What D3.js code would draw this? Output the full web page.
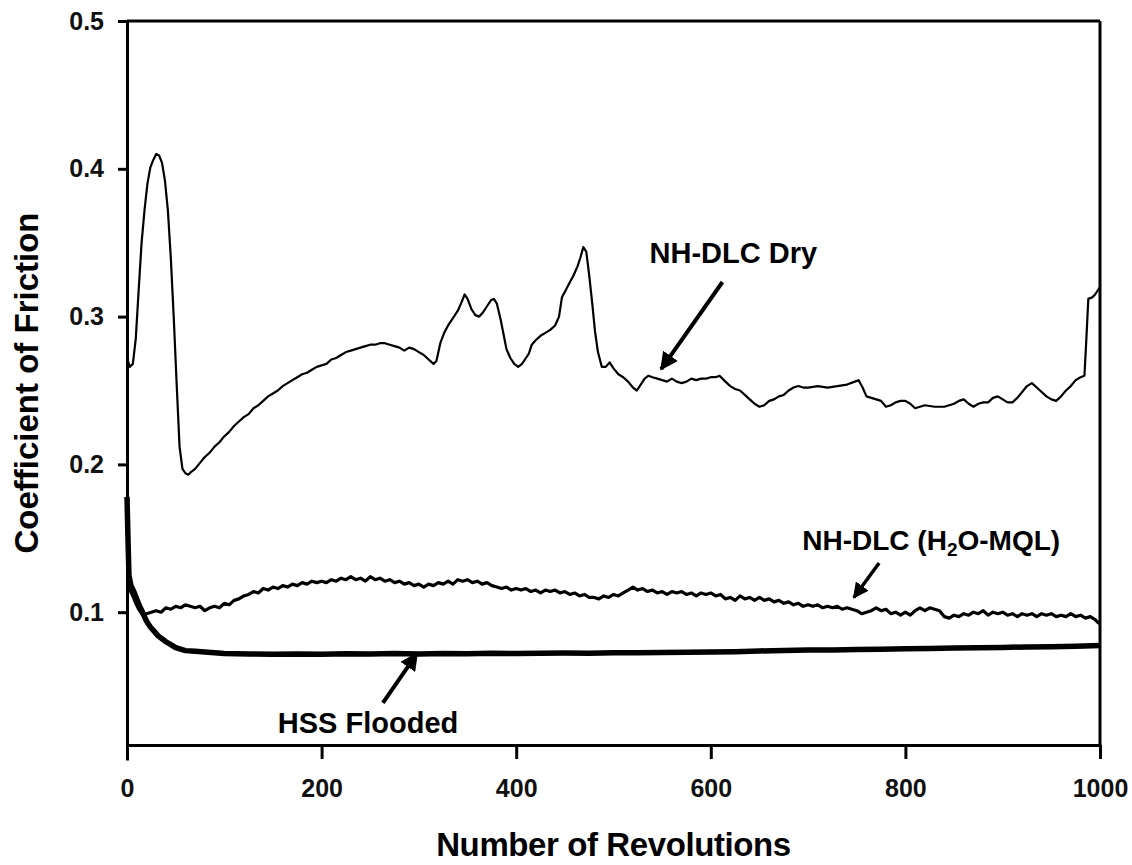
<!DOCTYPE html>
<html>
<head>
<meta charset="utf-8">
<script src="https://cdn.jsdelivr.net/npm/d3@7"></script>
<style>
  body { margin: 0; background: #fff; }
  svg { display: block; font-family: "Liberation Sans", Arial, sans-serif; }
</style>
</head>
<body>
<svg id="chart" width="1132" height="865"></svg>
<script>
// ---------- data ----------
const xTicks = [0, 200, 400, 600, 800, 1000];
const yTicks = [0.1, 0.2, 0.3, 0.4, 0.5];
const yTickLabels = ["0.1", "0.2", "0.3", "0.4", "0.5"];
const xTitle = "Number of Revolutions";
const yTitle = "Coefficient of Friction";

const dryRev = [0,3,6,9,12,15,18,21,24,27,30,33,36,39,42,45,48,51,54,57,60,63,66,70,75,80,85,90,95,100,105,110,115,120,125,130,135,140,145,150,155,160,165,170,175,180,185,190,195,200,205,210,215,220,225,230,235,240,245,250,255,260,265,270,275,280,285,290,295,300,305,310,315,318,322,326,330,335,340,344,347,350,354,358,362,366,370,374,377,380,384,387,390,394,398,402,406,410,413,416,420,425,430,435,440,444,447,451,455,459,463,466,469,472,475,478,481,484,488,492,496,500,505,510,515,520,524,528,532,536,540,545,550,555,560,565,570,575,580,585,590,595,600,605,609,615,620,625,630,635,640,645,650,655,660,665,670,675,680,685,690,695,700,710,720,730,740,748,752,756,760,765,770,775,780,785,790,795,800,805,810,815,820,830,840,850,855,860,865,870,875,880,885,890,895,900,905,910,915,920,925,930,935,940,945,950,955,960,965,970,975,980,984,986,988,992,995,998,1000];
const dryCof = [0.272,0.266,0.268,0.285,0.318,0.350,0.372,0.390,0.401,0.406,0.410,0.409,0.404,0.392,0.372,0.340,0.300,0.255,0.212,0.197,0.194,0.193,0.195,0.197,0.201,0.205,0.208,0.212,0.215,0.219,0.222,0.226,0.229,0.232,0.234,0.238,0.240,0.243,0.246,0.248,0.250,0.253,0.255,0.257,0.259,0.261,0.262,0.264,0.266,0.267,0.268,0.271,0.272,0.274,0.276,0.277,0.278,0.279,0.280,0.281,0.281,0.282,0.282,0.281,0.280,0.279,0.277,0.279,0.278,0.276,0.274,0.271,0.268,0.270,0.282,0.289,0.294,0.299,0.304,0.310,0.315,0.312,0.305,0.301,0.300,0.303,0.307,0.311,0.312,0.309,0.298,0.288,0.278,0.272,0.268,0.266,0.268,0.272,0.275,0.281,0.284,0.287,0.289,0.291,0.294,0.300,0.313,0.318,0.323,0.328,0.334,0.340,0.347,0.344,0.328,0.310,0.290,0.276,0.266,0.266,0.269,0.265,0.261,0.259,0.256,0.252,0.250,0.254,0.258,0.260,0.259,0.258,0.257,0.256,0.258,0.256,0.255,0.256,0.258,0.257,0.258,0.258,0.259,0.259,0.260,0.256,0.253,0.251,0.250,0.247,0.244,0.241,0.239,0.240,0.243,0.244,0.246,0.247,0.250,0.252,0.253,0.252,0.252,0.253,0.252,0.253,0.254,0.256,0.257,0.252,0.246,0.245,0.244,0.243,0.239,0.240,0.242,0.243,0.243,0.241,0.238,0.239,0.240,0.239,0.239,0.241,0.243,0.244,0.241,0.239,0.241,0.242,0.242,0.245,0.246,0.244,0.242,0.242,0.245,0.249,0.253,0.255,0.252,0.249,0.246,0.244,0.243,0.246,0.250,0.253,0.257,0.259,0.260,0.285,0.312,0.313,0.315,0.318,0.320];

const mqlRev = [0,3,6,9,12,16,20,25,30,35,40,45,50,55,60,65,70,75,80,85,90,95,100,105,110,115,120,125,130,135,140,145,150,155,160,165,170,175,180,185,190,195,200,205,210,215,220,225,230,235,240,245,250,255,260,265,270,275,280,285,290,295,300,305,310,315,320,325,330,335,340,345,350,355,360,365,370,375,380,385,390,395,400,405,410,415,420,425,430,435,440,445,450,455,460,465,470,475,480,485,490,495,500,505,510,515,520,525,530,535,540,545,550,555,560,565,570,575,580,585,590,595,600,605,610,615,620,625,630,635,640,645,650,655,660,665,670,675,680,685,690,695,700,705,710,715,720,725,730,735,740,745,750,755,760,765,770,775,780,785,790,795,800,805,810,815,820,825,830,835,840,845,850,855,860,865,870,875,880,885,890,895,900,905,910,915,920,925,930,935,940,945,950,955,960,965,970,975,980,985,990,995,998,1000];
const mqlCof = [0.117,0.115,0.111,0.106,0.102,0.098,0.099,0.100,0.101,0.100,0.103,0.102,0.104,0.103,0.105,0.104,0.103,0.104,0.101,0.103,0.104,0.103,0.106,0.105,0.108,0.109,0.111,0.112,0.114,0.113,0.116,0.115,0.117,0.116,0.118,0.117,0.119,0.118,0.120,0.119,0.121,0.120,0.121,0.120,0.122,0.121,0.123,0.122,0.124,0.122,0.123,0.121,0.124,0.122,0.123,0.121,0.122,0.120,0.121,0.119,0.120,0.118,0.119,0.117,0.119,0.118,0.120,0.119,0.121,0.119,0.122,0.121,0.122,0.120,0.121,0.119,0.120,0.118,0.117,0.116,0.117,0.115,0.116,0.115,0.116,0.114,0.115,0.113,0.115,0.114,0.115,0.113,0.114,0.112,0.113,0.111,0.112,0.110,0.110,0.109,0.111,0.110,0.112,0.111,0.113,0.115,0.117,0.115,0.116,0.114,0.115,0.113,0.114,0.112,0.114,0.113,0.114,0.112,0.113,0.111,0.113,0.112,0.113,0.111,0.112,0.109,0.110,0.108,0.111,0.109,0.110,0.108,0.110,0.108,0.109,0.107,0.108,0.106,0.107,0.105,0.106,0.104,0.105,0.104,0.105,0.103,0.104,0.103,0.104,0.102,0.103,0.102,0.101,0.099,0.100,0.101,0.103,0.101,0.102,0.099,0.100,0.098,0.100,0.098,0.101,0.103,0.101,0.103,0.102,0.101,0.097,0.096,0.098,0.097,0.099,0.098,0.100,0.099,0.101,0.098,0.100,0.099,0.100,0.098,0.099,0.097,0.099,0.098,0.099,0.097,0.099,0.098,0.099,0.097,0.098,0.097,0.099,0.097,0.098,0.096,0.097,0.095,0.093,0.092];

const hssRev = [0,1,2,4,7,10,13,16,20,24,28,32,36,40,45,50,55,60,70,80,90,100,125,150,175,200,225,250,275,300,325,350,375,400,425,450,475,500,525,550,575,600,625,650,675,700,725,750,775,800,825,850,875,900,925,950,975,1000];
const hssCof = [0.178,0.150,0.125,0.118,0.114,0.109,0.104,0.100,0.094,0.090,0.087,0.084,0.082,0.080,0.078,0.076,0.075,0.074,0.0735,0.073,0.0725,0.072,0.0718,0.0715,0.0718,0.0716,0.0719,0.0717,0.072,0.0718,0.0721,0.0719,0.0722,0.072,0.0723,0.0724,0.0722,0.0726,0.0725,0.0727,0.0729,0.073,0.0733,0.0738,0.0741,0.0745,0.0744,0.0748,0.075,0.0752,0.0755,0.0757,0.076,0.0762,0.0765,0.0767,0.077,0.0775];

const labelDry = "NH-DLC Dry";
const labelHss = "HSS Flooded";

// ---------- chart ----------
const svg = d3.select("#chart");
const x = d3.scaleLinear().domain([0, 1000]).range([127, 1100]);
const y = d3.scaleLinear().domain([0, 0.5]).range([760, 21]);
const xAxisY = 745;
const font = '"Liberation Sans", Arial, sans-serif';

const line = d3.line().x(d => x(d[0])).y(d => y(d[1]));
const zip = (a, b) => a.map((v, i) => [v, b[i]]);

svg.append("path").datum(zip(hssRev, hssCof)).attr("d", line)
  .attr("fill", "none").attr("stroke", "#000").attr("stroke-width", 5.5).attr("stroke-linejoin", "round");
svg.append("path").datum(zip(mqlRev, mqlCof)).attr("d", line)
  .attr("fill", "none").attr("stroke", "#000").attr("stroke-width", 3.2).attr("stroke-linejoin", "round");
svg.append("path").datum(zip(dryRev, dryCof)).attr("d", line)
  .attr("fill", "none").attr("stroke", "#000").attr("stroke-width", 2.2).attr("stroke-linejoin", "round");

// frame (top and right)
svg.append("line").attr("x1", x(0)).attr("x2", x(1000)).attr("y1", y(0.5)).attr("y2", y(0.5))
  .attr("stroke", "#000").attr("stroke-width", 3);
svg.append("line").attr("x1", x(1000)).attr("x2", x(1000)).attr("y1", y(0.5)).attr("y2", xAxisY)
  .attr("stroke", "#000").attr("stroke-width", 3);

// y axis
const yAxis = svg.append("g").attr("transform", `translate(${x(0)},0)`)
  .call(d3.axisLeft(y).tickValues(yTicks).tickFormat((d, i) => yTickLabels[i]).tickSize(9).tickSizeOuter(0).tickPadding(14));
yAxis.select(".domain").attr("stroke-width", 3);
yAxis.selectAll(".tick line").attr("stroke-width", 3);
yAxis.selectAll(".tick text").attr("font-size", 25).attr("font-weight", "bold").attr("font-family", font).attr("fill", "#111");

// x axis
const xAxis = svg.append("g").attr("transform", `translate(0,${xAxisY})`)
  .call(d3.axisBottom(x).tickValues(xTicks).tickFormat(d3.format("d")).tickSize(14).tickSizeOuter(0));
xAxis.select(".domain").attr("stroke-width", 3);
xAxis.selectAll(".tick line").attr("stroke-width", 3);
xAxis.selectAll(".tick text").attr("font-size", 25).attr("font-weight", "bold").attr("font-family", font)
  .attr("fill", "#111").attr("y", 52).attr("dy", 0);

// titles
svg.append("text").attr("x", (x(0) + x(1000)) / 2).attr("y", 856).attr("text-anchor", "middle")
  .attr("font-size", 33).attr("font-weight", "bold").attr("font-family", font).attr("letter-spacing", -0.4).text(xTitle);
svg.append("text").attr("transform", `translate(38,${(y(0.5) + xAxisY) / 2}) rotate(-90)`).attr("text-anchor", "middle")
  .attr("font-size", 33).attr("font-weight", "bold").attr("font-family", font).text(yTitle);

// annotations
const defs = svg.append("defs");
defs.append("marker").attr("id", "ah").attr("viewBox", "0 0 10 10").attr("refX", 9).attr("refY", 5)
  .attr("markerWidth", 4.5).attr("markerHeight", 4.5).attr("orient", "auto")
  .append("path").attr("d", "M0,0 L10,5 L0,10 z").attr("fill", "#000");

function arrow(x1, y1, x2, y2, w) {
  svg.append("line").attr("x1", x(x1)).attr("y1", y(y1)).attr("x2", x(x2)).attr("y2", y(y2))
    .attr("stroke", "#000").attr("stroke-width", w).attr("marker-end", "url(#ah)");
}
arrow(612, 0.3234, 549, 0.2645, 4);
arrow(773, 0.1333, 747, 0.1100, 3.5);
arrow(263, 0.0386, 298, 0.0720, 4);

const annFont = 29;
svg.append("text").attr("x", x(537)).attr("y", y(0.3363)).attr("font-size", annFont).attr("font-weight", "bold")
  .attr("font-family", font).text(labelDry);
svg.append("text").attr("x", x(155)).attr("y", y(0.0183)).attr("font-size", annFont).attr("font-weight", "bold")
  .attr("font-family", font).text(labelHss);
const t = svg.append("text").attr("x", x(694)).attr("y", y(0.1421)).attr("font-size", 28).attr("font-weight", "bold")
  .attr("font-family", font);
t.append("tspan").text("NH-DLC (H");
t.append("tspan").attr("font-size", 19).attr("dy", 6).text("2");
t.append("tspan").attr("dy", -6).text("O-MQL)");
</script>
</body>
</html>
